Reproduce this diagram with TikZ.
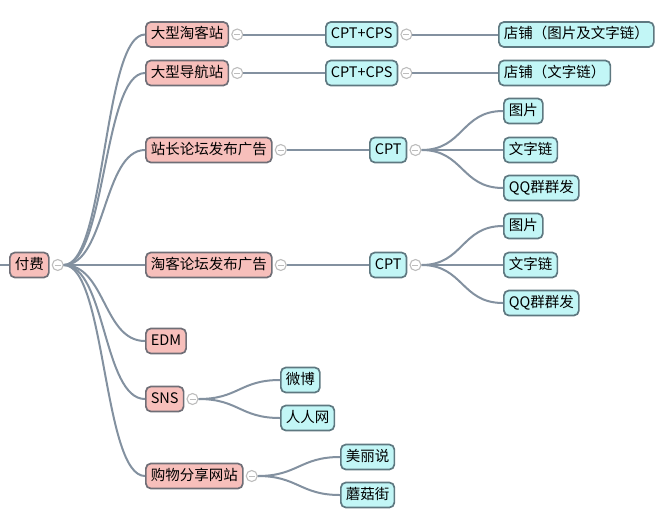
\documentclass[tikz,border=0pt]{standalone}
\usepackage{fontspec}
\setmainfont{Noto Sans CJK SC}
\usetikzlibrary{positioning}
\definecolor{pinkfill}{HTML}{F7BFBB}
\definecolor{pinkedge}{HTML}{6F6E76}
\definecolor{bluefill}{HTML}{C2F6F6}
\definecolor{blueedge}{HTML}{5E7880}
\definecolor{branchgray}{HTML}{8391A0}
\definecolor{foldgray}{HTML}{BDBDBD}
\tikzset{
 topic/.style={draw=pinkedge,fill=pinkfill,rounded corners=5pt,line width=1.7pt,minimum height=25pt,inner xsep=5pt,inner ysep=0pt,text height=11pt,text depth=3pt,anchor=west,font=\fontsize{14.5}{17}\selectfont},
 leaf/.style={topic,draw=blueedge,fill=bluefill},
 fold/.style={circle,draw=foldgray,fill=white,line width=1.1pt,minimum size=11pt,inner sep=0pt,
  path picture={\draw[foldgray,line width=0.9pt]([xshift=-3pt]path picture bounding box.center)--([xshift=3pt]path picture bounding box.center);}},
 branch/.style={draw=branchgray,line width=2pt}
}
\begin{document}
\begin{tikzpicture}[x=1pt,y=-1pt]
 \useasboundingbox (0,0) rectangle (660,512);
 \node[topic] (fufei) at (9,265) {付费};
 \node[topic] (dxtk) at (145,34.5) {大型淘客站};
 \node[topic] (dxdh) at (145,73) {大型导航站};
 \node[topic] (zzlt) at (145,150) {站长论坛发布广告};
 \node[topic] (tklt) at (145,265) {淘客论坛发布广告};
 \node[topic] (edm) at (145,341) {EDM};
 \node[topic] (sns) at (145,399) {SNS};
 \node[topic] (gwfx) at (145,476) {购物分享网站};
 \node[leaf] (cps1) at (325,34.5) {CPT+CPS};
 \node[leaf] (cps2) at (325,73) {CPT+CPS};
 \node[leaf] (cpt1) at (369,150) {CPT};
 \node[leaf] (cpt2) at (369,265) {CPT};
 \node[leaf] (weibo) at (280,380) {微博};
 \node[leaf] (renren) at (280,418) {人人网};
 \node[leaf] (meili) at (340,457) {美丽说};
 \node[leaf] (mogu) at (340,495) {蘑菇街};
 \node[leaf] (shop1) at (498,34.5) {店铺（图片及文字链）};
 \node[leaf] (shop2) at (498,73) {店铺（文字链）};
 \node[leaf] (pic1) at (503,111) {图片};
 \node[leaf] (link1) at (503,150) {文字链};
 \node[leaf] (qq1) at (503,188) {QQ群群发};
 \node[leaf] (pic2) at (503,226) {图片};
 \node[leaf] (link2) at (503,265) {文字链};
 \node[leaf] (qq2) at (503,303) {QQ群群发};
 \foreach \n in {fufei,dxtk,dxdh,zzlt,tklt,sns,gwfx,cps1,cps2,cpt1,cpt2}
  \node[fold,right=2pt of \n] (\n-f) {};
 \coordinate (offleft) at (0,265);
 \draw[branch] (offleft) -- (fufei.west);
 \foreach \n in {dxtk,dxdh,zzlt,tklt,edm,sns,gwfx}
  \draw[branch] (fufei-f.east) .. controls +(42,0) and +(-42,0) .. (\n.west);
 \draw[branch] (dxtk-f.east) -- (cps1.west);
 \draw[branch] (dxdh-f.east) -- (cps2.west);
 \draw[branch] (zzlt-f.east) -- (cpt1.west);
 \draw[branch] (tklt-f.east) -- (cpt2.west);
 \draw[branch] (cps1-f.east) -- (shop1.west);
 \draw[branch] (cps2-f.east) -- (shop2.west);
 \foreach \n in {pic1,link1,qq1}
  \draw[branch] (cpt1-f.east) .. controls +(42,0) and +(-42,0) .. (\n.west);
 \foreach \n in {pic2,link2,qq2}
  \draw[branch] (cpt2-f.east) .. controls +(42,0) and +(-42,0) .. (\n.west);
 \foreach \n in {weibo,renren}
  \draw[branch] (sns-f.east) .. controls +(40,0) and +(-40,0) .. (\n.west);
 \foreach \n in {meili,mogu}
  \draw[branch] (gwfx-f.east) .. controls +(40,0) and +(-40,0) .. (\n.west);
\end{tikzpicture}
\end{document}
